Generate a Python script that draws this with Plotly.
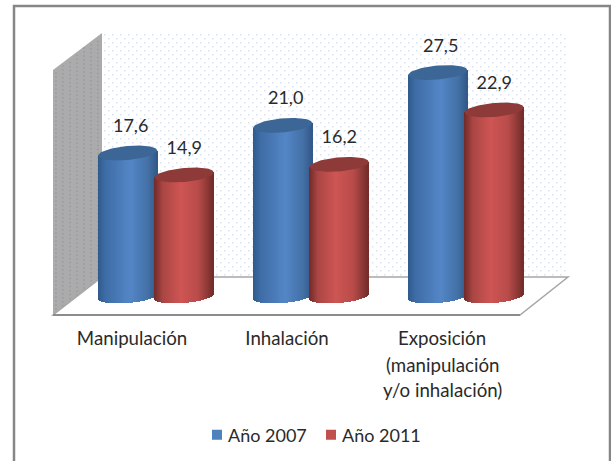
import plotly.graph_objects as go
import numpy as np

# ---- data ----
categories = ["Manipulación", "Inhalación", "Exposición"]
category_extra_lines = [[], [], ["(manipulación", "y/o inhalación)"]]
values_2007 = [17.6, 21.0, 27.5]
values_2011 = [14.9, 16.2, 22.9]
series_names = ["Año 2007", "Año 2011"]

# ---- layout constants (pixels in the 611x461 page) ----
W, H = 611, 461
PLOT_BOTTOM = 320
BASE_PX = 296.0      # pixel row of value 0
PX_PER_UNIT = 8.125
CAT0_PX = 132.0
CAT_STEP_PX = 155.0
DEPTH_SHIFT = 24.0   # 3D projection: bars sit to the right of their labels
BAR_W = 59.0
BAR_OFF = 28.3
ELL_B = 7.0
TILT = 2.5
FONT = "Lato"
TXT = "#2a2a2a"
AXIS_SIZE = 18.7
LABEL_SIZE = 18


def dx(px):
    return (px - CAT0_PX) / CAT_STEP_PX


def dy(px):
    return (BASE_PX - px) / PX_PER_UNIT


def lerp_color(stops, t):
    ts = [s[0] for s in stops]
    rgb = [np.interp(t, ts, [s[1][k] for s in stops]) for k in range(3)]
    return "rgb(%d,%d,%d)" % tuple(int(round(c)) for c in rgb)


BLUE_STOPS = [(-1, (47, 90, 140)), (-0.75, (62, 108, 165)), (0.1, (84, 134, 199)),
              (0.7, (67, 112, 165)), (1, (50, 88, 136))]
RED_STOPS = [(-1, (112, 42, 40)), (-0.7, (170, 70, 68)), (-0.1, (206, 85, 83)),
             (0.5, (184, 76, 74)), (1, (115, 44, 42))]
BLUE_TOP = "#3b6695"
RED_TOP = "#8e3a38"

fig = go.Figure()


def add_cylinders(values, offset_px, stops, top_color):
    n = int(BAR_W)
    ts = (np.arange(n) + 0.5) / n * 2 - 1
    unit_w = (BAR_W / n) / CAT_STEP_PX
    xs, bases, heights, colors = [], [], [], []
    ex, ey = [], []
    angles = np.linspace(0, 2 * np.pi, 73)
    for i, v in enumerate(values):
        cx = i + (DEPTH_SHIFT + offset_px) / CAT_STEP_PX
        for t in ts:
            low = (-ELL_B * np.sqrt(1 - t * t) + TILT * t) / PX_PER_UNIT
            top = v + TILT * t / PX_PER_UNIT
            xs.append(cx + t * BAR_W / 2 / CAT_STEP_PX)
            bases.append(low)
            heights.append(top - low)
            colors.append(lerp_color(stops, t))
        ca, sa = np.cos(angles), np.sin(angles)
        ex += list(cx + ca * BAR_W / 2 / CAT_STEP_PX) + [None]
        ey += list(v + (ELL_B * sa + TILT * ca) / PX_PER_UNIT) + [None]
    fig.add_trace(go.Bar(x=xs, y=heights, base=bases, width=unit_w * 1.25,
                         marker=dict(color=colors, line=dict(width=0)),
                         showlegend=False, hoverinfo="skip"))
    fig.add_trace(go.Scatter(x=ex, y=ey, mode="lines", fill="toself", fillcolor=top_color,
                             line=dict(width=0, color=top_color), showlegend=False, hoverinfo="skip"))


add_cylinders(values_2007, -BAR_OFF, BLUE_STOPS, BLUE_TOP)
add_cylinders(values_2011, BAR_OFF, RED_STOPS, RED_TOP)

# data labels
for values, off in ((values_2007, -BAR_OFF + 3), (values_2011, BAR_OFF)):
    fig.add_trace(go.Scatter(
        x=[i + (DEPTH_SHIFT + off) / CAT_STEP_PX for i in range(len(values))],
        y=[v + 25.5 / PX_PER_UNIT for v in values],
        text=[f"{v:.1f}".replace(".", ",") for v in values],
        mode="text", textposition="middle center",
        textfont=dict(family=FONT, size=LABEL_SIZE, color=TXT),
        showlegend=False, hoverinfo="skip"))

# legend entries (dashed so that only the swatch part next to the text is inked)
for name, col in zip(series_names, ("#4f81bd", "#c0504d")):
    fig.add_trace(go.Scatter(x=[None], y=[None], name=name, mode="lines",
                             line=dict(color=col, width=10, dash="0px,19px,10px,100px")))
# invisible spacer entry: keeps the legend box wide enough not to clip the last name
fig.add_trace(go.Scatter(x=[None], y=[None], name="\u00a0", mode="lines",
                         line=dict(color="rgba(0,0,0,0)", width=1)))


# ---- walls and floor ----
def poly(pts):
    return "M " + " L ".join(f"{dx(a):.5f},{dy(b):.5f}" for a, b in pts) + " Z"


def dots(x0, x1, y0, y1):
    parts = []
    y = y0
    row = 0
    while y < y1:
        x = x0 + (4 if row % 2 else 0)
        while x < x1:
            parts.append(poly([(x, y), (x + 1.5, y), (x + 1.5, y + 1.5), (x, y + 1.5)]))
            x += 8
        y += 4
        row += 1
    return " ".join(parts)


shapes = []
shapes.append(dict(type="path", path=dots(104, 567, 34, 276), fillcolor="#d7e2f2",
                   line=dict(width=0), layer="below"))
shapes.append(dict(type="path", path=poly([(53, 70), (102, 33), (102, 277), (53, 315)]),
                   fillcolor="#ababab", line=dict(width=0), layer="below"))
parts = []
for k in range(0, 62):
    y0 = 70 + k * 4
    for j in range(0, 7):
        x = 55 + j * 7
        y = y0 + (x - 53) * (-37 / 49) + (2 if j % 2 else 0)
        lo = 33 + (102 - x) * 37 / 49
        hi = 277 + (102 - x) * 38 / 49
        if lo < y < hi - 2:
            parts.append(poly([(x, y), (x + 2, y), (x + 2, y + 1.4), (x, y + 1.4)]))
shapes.append(dict(type="path", path=" ".join(parts), fillcolor="#9c9ca3",
                   line=dict(width=0), layer="below"))
shapes.append(dict(type="path", path=poly([(53, 315), (102, 277), (568, 277), (520, 315)]),
                   fillcolor="white", line=dict(color="#a6a6a6", width=1.5), layer="below"))
shapes.append(dict(type="line", x0=dx(53), x1=dx(520), y0=dy(315), y1=dy(315),
                   line=dict(color="#8c8c8c", width=2), layer="below"))
for s in shapes:
    s.update(xref="x", yref="y")

# outer frame: left, top and right sides only
shapes.append(dict(type="path", xref="paper", yref="paper",
                   path=f"M {14/W},{(PLOT_BOTTOM-H)/PLOT_BOTTOM} L {14/W},{(PLOT_BOTTOM-6)/PLOT_BOTTOM} "
                        f"L {610/W},{(PLOT_BOTTOM-6)/PLOT_BOTTOM} L {610/W},{(PLOT_BOTTOM-H)/PLOT_BOTTOM}",
                   line=dict(color="#868686", width=2.5), layer="below"))

# extra lines of the long category label (line pitch is wider than Plotly's own)
annotations = []
for i, lines in enumerate(category_extra_lines):
    for j, line in enumerate(lines):
        annotations.append(dict(x=i, xref="x", y=(PLOT_BOTTOM - (365 + 25 * j)) / PLOT_BOTTOM, yref="paper",
                                text=line, showarrow=False, xanchor="center", yanchor="middle",
                                font=dict(family=FONT, size=AXIS_SIZE, color=TXT)))

fig.update_layout(
    width=W, height=H, autosize=False,
    margin=dict(l=0, r=0, t=0, b=H - PLOT_BOTTOM, pad=0),
    paper_bgcolor="white", plot_bgcolor="rgba(0,0,0,0)",
    barmode="overlay", bargap=0,
    font=dict(family=FONT, size=LABEL_SIZE, color=TXT),
    shapes=shapes, annotations=annotations,
    xaxis=dict(range=[dx(0), dx(W)], tickmode="array", tickvals=list(range(len(categories))),
               ticktext=categories, showgrid=False, zeroline=False, showline=False, ticks="",
               ticklabelstandoff=5,
               tickfont=dict(family=FONT, size=AXIS_SIZE, color=TXT), fixedrange=True),
    yaxis=dict(range=[dy(PLOT_BOTTOM), dy(0)], visible=False, showgrid=False, zeroline=False, fixedrange=True),
    legend=dict(orientation="h", x=188 / W, xanchor="left", y=(PLOT_BOTTOM - 435) / PLOT_BOTTOM, yanchor="middle",
                itemwidth=30, entrywidth=69, entrywidthmode="pixels", bgcolor="rgba(0,0,0,0)",
                font=dict(family=FONT, size=LABEL_SIZE, color=TXT)),
    showlegend=True,
)

fig.write_html("out.html", config=dict(displayModeBar=False),
               post_script="document.body.style.margin='0';document.documentElement.style.overflow='hidden';")
